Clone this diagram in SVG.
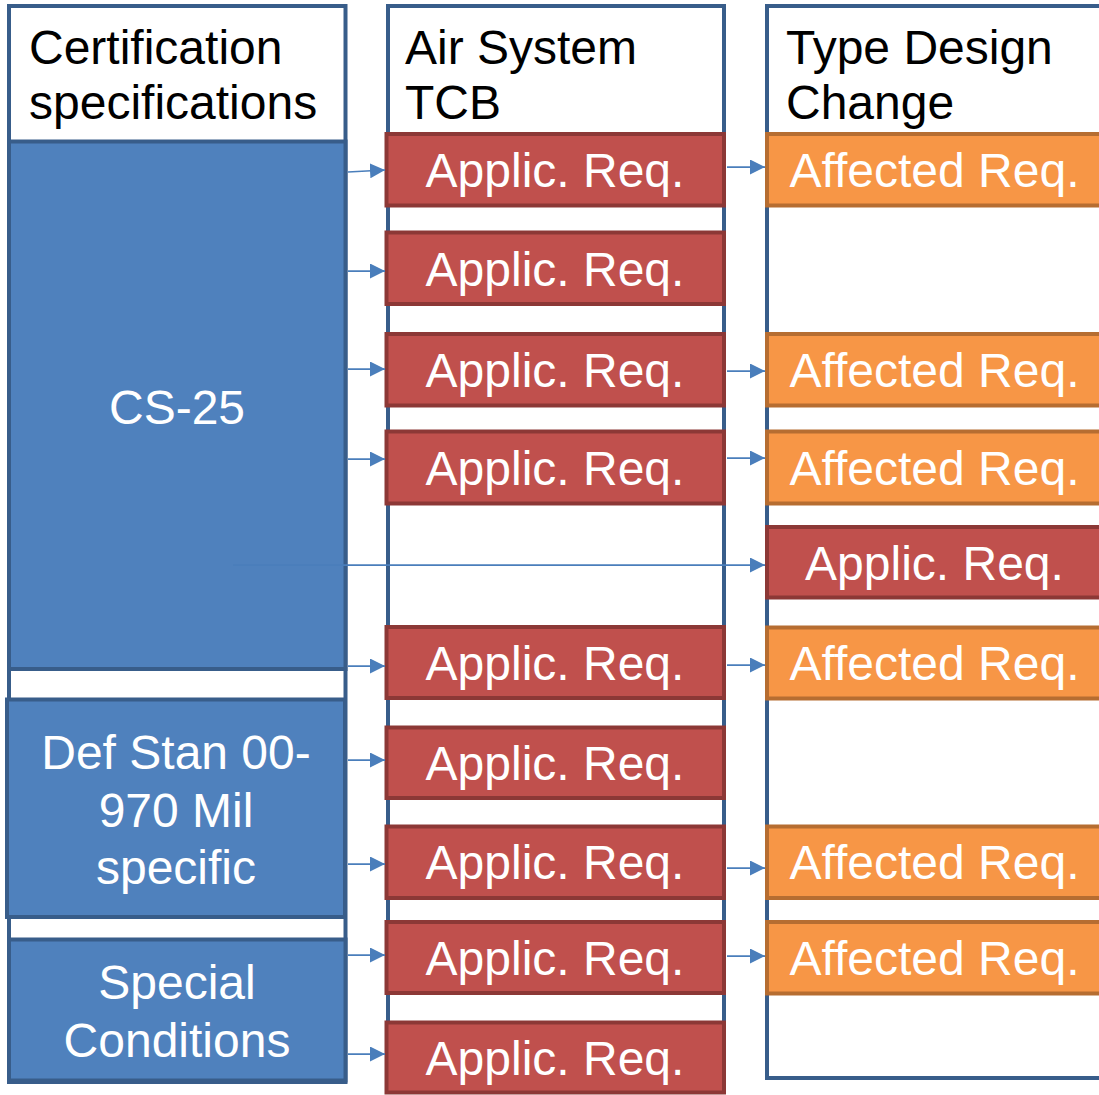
<svg xmlns="http://www.w3.org/2000/svg" width="1099" height="1095" viewBox="0 0 1099 1095">
  <defs>
    <marker id="arrow" markerUnits="userSpaceOnUse" markerWidth="15" markerHeight="15" refX="15" refY="7.5" orient="auto">
      <path d="M0,0 L15,7.5 L0,15 z" fill="#4A7EBB"/>
    </marker>
    <style>
      .frame { fill: #FFFFFF; stroke: #385D8A; stroke-width: 4; }
      .spec { fill: #4F81BD; stroke: #385D8A; stroke-width: 4; }
      .applic { fill: #C0504D; stroke: #8C3836; stroke-width: 4; }
      .affected { fill: #F79646; stroke: #B66D31; stroke-width: 4; }
      .head { font-family: "Liberation Sans", Arial, sans-serif; font-size: 48px; fill: #000000; }
      .label { font-family: "Liberation Sans", Arial, sans-serif; font-size: 48px; fill: #FFFFFF; text-anchor: middle; }
      .link { stroke: #4A7EBB; stroke-width: 1.75; fill: none; marker-end: url(#arrow); }
    </style>
  </defs>

  <rect width="1099" height="1095" fill="#FFFFFF"/>

  <!-- Column frames with headers -->
  <g id="col-cert">
    <rect class="frame" x="9" y="6" width="336.5" height="1076"/>
    <text class="head" x="29" y="64">Certification</text>
    <text class="head" x="29" y="119">specifications</text>
  </g>
  <g id="col-tcb">
    <rect class="frame" x="388" y="6" width="336" height="1074"/>
    <text class="head" x="405" y="64">Air System</text>
    <text class="head" x="405" y="119">TCB</text>
  </g>
  <g id="col-tdc">
    <rect class="frame" x="767" y="6" width="360" height="1072"/>
    <text class="head" x="786" y="64">Type Design</text>
    <text class="head" x="786" y="119">Change</text>
  </g>

  <!-- Certification specification sources -->
  <g id="cs25">
    <rect class="spec" x="9" y="141.5" width="336.5" height="527.5"/>
    <text class="label" x="177" y="424">CS-25</text>
  </g>
  <g id="defstan">
    <rect class="spec" x="7" y="699.5" width="338" height="217.5"/>
    <text class="label" x="176" y="769">Def Stan 00-</text>
    <text class="label" x="176" y="827">970 Mil</text>
    <text class="label" x="176" y="884">specific</text>
  </g>
  <g id="special">
    <rect class="spec" x="9" y="939.5" width="336.5" height="141"/>
    <text class="label" x="177" y="999">Special</text>
    <text class="label" x="177" y="1057">Conditions</text>
  </g>

  <!-- Applicable requirements (TCB column) -->
  <g id="applic-1"><rect class="applic" x="386.5" y="134" width="337.5" height="71.5"/><text class="label" x="555" y="187">Applic. Req.</text></g>
  <g id="applic-2"><rect class="applic" x="386.5" y="232.5" width="337.5" height="71.5"/><text class="label" x="555" y="286">Applic. Req.</text></g>
  <g id="applic-3"><rect class="applic" x="386.5" y="334" width="337.5" height="71.5"/><text class="label" x="555" y="387">Applic. Req.</text></g>
  <g id="applic-4"><rect class="applic" x="386.5" y="431.5" width="337.5" height="72"/><text class="label" x="555" y="485">Applic. Req.</text></g>
  <g id="applic-6"><rect class="applic" x="386.5" y="627" width="337.5" height="71"/><text class="label" x="555" y="680">Applic. Req.</text></g>
  <g id="applic-7"><rect class="applic" x="386.5" y="727.5" width="337.5" height="70.5"/><text class="label" x="555" y="780">Applic. Req.</text></g>
  <g id="applic-8"><rect class="applic" x="386.5" y="826.5" width="337.5" height="71.5"/><text class="label" x="555" y="879">Applic. Req.</text></g>
  <g id="applic-9"><rect class="applic" x="386.5" y="922" width="337.5" height="71"/><text class="label" x="555" y="975">Applic. Req.</text></g>
  <g id="applic-10"><rect class="applic" x="386.5" y="1022.5" width="337.5" height="70"/><text class="label" x="555" y="1075">Applic. Req.</text></g>

  <!-- Type design change column -->
  <g id="affected-1"><rect class="affected" x="767" y="134" width="360" height="71.5"/><text class="label" x="934.5" y="187">Affected Req.</text></g>
  <g id="affected-3"><rect class="affected" x="767" y="334" width="360" height="71.5"/><text class="label" x="934.5" y="387">Affected Req.</text></g>
  <g id="affected-4"><rect class="affected" x="767" y="431.5" width="360" height="72"/><text class="label" x="934.5" y="485">Affected Req.</text></g>
  <g id="applic-5"><rect class="applic" x="767" y="527" width="360" height="70.5"/><text class="label" x="934.5" y="580">Applic. Req.</text></g>
  <g id="affected-6"><rect class="affected" x="767" y="627.5" width="360" height="71"/><text class="label" x="934.5" y="680">Affected Req.</text></g>
  <g id="affected-8"><rect class="affected" x="767" y="826.5" width="360" height="71.5"/><text class="label" x="934.5" y="879">Affected Req.</text></g>
  <g id="affected-9"><rect class="affected" x="767" y="922" width="360" height="71.5"/><text class="label" x="934.5" y="975">Affected Req.</text></g>

  <!-- Connectors -->
  <g id="connectors">
    <line class="link" x1="348" y1="172" x2="385" y2="170"/>
    <line class="link" x1="348" y1="271" x2="385" y2="271"/>
    <line class="link" x1="348" y1="369" x2="385" y2="369"/>
    <line class="link" x1="348" y1="459" x2="385" y2="459"/>
    <line class="link" x1="233" y1="565" x2="765" y2="565"/>
    <line class="link" x1="348" y1="666" x2="385" y2="666"/>
    <line class="link" x1="348" y1="760" x2="385" y2="760"/>
    <line class="link" x1="348" y1="864" x2="385" y2="864"/>
    <line class="link" x1="348" y1="955" x2="385" y2="955"/>
    <line class="link" x1="348" y1="1054" x2="385" y2="1054"/>
    <line class="link" x1="727" y1="167" x2="765" y2="167"/>
    <line class="link" x1="727" y1="371" x2="765" y2="371"/>
    <line class="link" x1="727" y1="458" x2="765" y2="458"/>
    <line class="link" x1="727" y1="665" x2="765" y2="665"/>
    <line class="link" x1="727" y1="868" x2="765" y2="868"/>
    <line class="link" x1="727" y1="956" x2="765" y2="956"/>
  </g>
</svg>
